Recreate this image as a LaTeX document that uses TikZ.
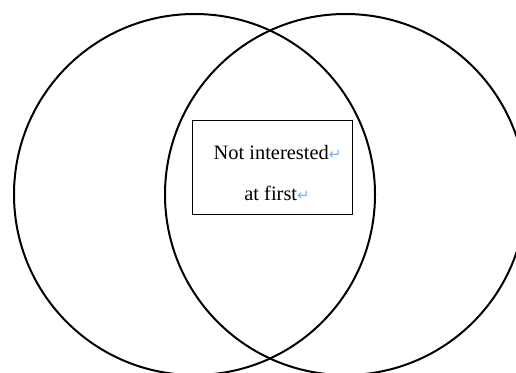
\documentclass[tikz,border=0pt]{standalone}
\usepackage{fontspec}
\setmainfont{Liberation Serif}
\newfontfamily\markfont{DejaVu Sans}
\definecolor{markblue}{RGB}{125,175,245}
\newcommand{\parmark}{{\markfont\fontsize{15}{15}\selectfont\textcolor{markblue}{↵}}}

\begin{document}
\begin{tikzpicture}[x=1bp, y=1bp,
    set/.style={circle, draw, line width=2bp, minimum size=361bp, inner sep=0pt},
    words/.style={anchor=base, inner sep=0pt, font=\fontsize{20.5}{24}\selectfont}]
    \useasboundingbox (0,0) rectangle (516,372);
    % Sets
    \node[set] (left) at (194.5,177.5) {};
    \node[set] (right) at (345.5,177.5) {};
    % Overlap
    \node[draw, line width=1bp, minimum width=160bp, minimum height=94bp] (box) at (272,205) {};
    \node[words] (first) at (277.5,213) {Not interested\parmark};
    \node[words] (second) at (277,172) {at first\parmark};
\end{tikzpicture}
\end{document}
